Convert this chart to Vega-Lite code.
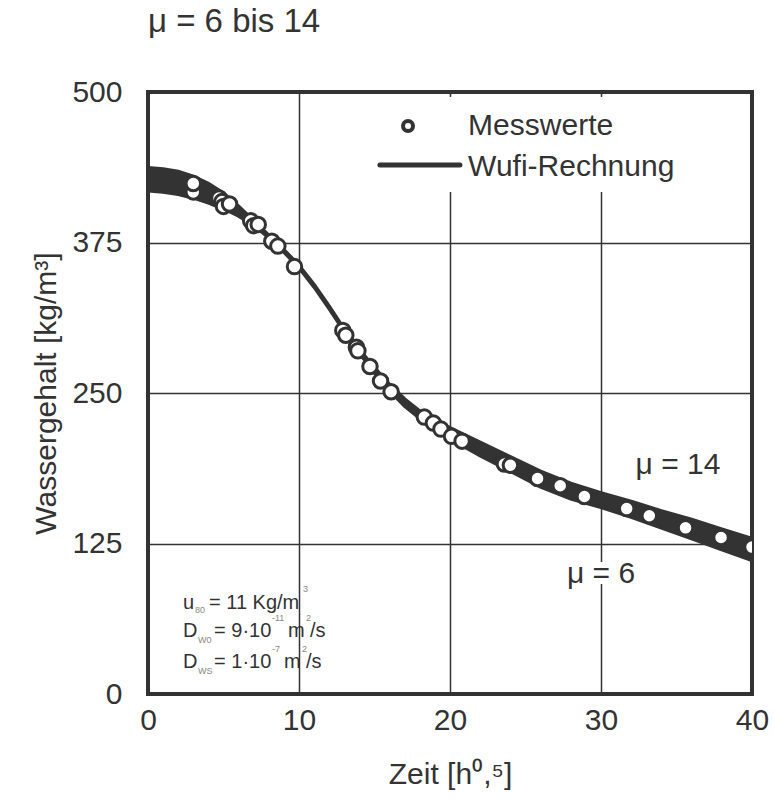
{
  "$schema": "https://vega.github.io/schema/vega-lite/v6.json",
  "width": 604,
  "height": 602,
  "autosize": {"type": "none"},
  "padding": {"left": 148, "top": 92, "right": 22, "bottom": 103},
  "background": "white",
  "title": {"text": "μ = 6 bis 14", "anchor": "start", "frame": "group", "fontSize": 33, "font": "Liberation Sans", "fontWeight": "normal", "color": "#333", "offset": 38},
  "config": {
    "font": "Liberation Sans",
    "view": {"stroke": "#333", "strokeWidth": 4},
    "text": {"font": "Liberation Sans", "color": "#333"}
  },
  "datasets": {
    "wufi": [
      {"t": 0, "mu14": 437, "mu6": 418},
      {"t": 1, "mu14": 436, "mu6": 417},
      {"t": 2, "mu14": 434, "mu6": 415},
      {"t": 3, "mu14": 430, "mu6": 412},
      {"t": 4, "mu14": 424, "mu6": 408},
      {"t": 5, "mu14": 416, "mu6": 403},
      {"t": 6, "mu14": 405, "mu6": 397},
      {"t": 7, "mu14": 393, "mu6": 389},
      {"t": 8, "mu14": 381, "mu6": 379},
      {"t": 9, "mu14": 369, "mu6": 367},
      {"t": 10, "mu14": 356, "mu6": 354},
      {"t": 11, "mu14": 340, "mu6": 338},
      {"t": 12, "mu14": 322, "mu6": 320},
      {"t": 13, "mu14": 303, "mu6": 301},
      {"t": 14, "mu14": 286, "mu6": 283},
      {"t": 15, "mu14": 271, "mu6": 267},
      {"t": 16, "mu14": 257, "mu6": 252},
      {"t": 17, "mu14": 245, "mu6": 239},
      {"t": 18, "mu14": 235, "mu6": 229},
      {"t": 19, "mu14": 227, "mu6": 220},
      {"t": 20, "mu14": 221, "mu6": 212},
      {"t": 22, "mu14": 209, "mu6": 198},
      {"t": 24, "mu14": 197, "mu6": 185},
      {"t": 26, "mu14": 185, "mu6": 172},
      {"t": 28, "mu14": 175, "mu6": 162},
      {"t": 30, "mu14": 167, "mu6": 155},
      {"t": 32, "mu14": 160, "mu6": 147},
      {"t": 34, "mu14": 152, "mu6": 138},
      {"t": 36, "mu14": 145, "mu6": 129},
      {"t": 38, "mu14": 137, "mu6": 120},
      {"t": 40, "mu14": 129, "mu6": 111}
    ],
    "mess": [
      {"t": 3.0, "w": 417}, {"t": 3.0, "w": 424}, {"t": 4.7, "w": 412}, {"t": 4.9, "w": 409},
      {"t": 5.0, "w": 405}, {"t": 5.4, "w": 407}, {"t": 6.8, "w": 393}, {"t": 7.0, "w": 389},
      {"t": 7.3, "w": 390}, {"t": 8.2, "w": 376}, {"t": 8.6, "w": 372}, {"t": 9.7, "w": 355},
      {"t": 12.9, "w": 302}, {"t": 13.1, "w": 298}, {"t": 13.8, "w": 288}, {"t": 13.9, "w": 285},
      {"t": 14.7, "w": 272}, {"t": 15.4, "w": 260}, {"t": 16.1, "w": 251}, {"t": 18.3, "w": 230},
      {"t": 18.9, "w": 225}, {"t": 19.4, "w": 220}, {"t": 20.1, "w": 214}, {"t": 20.8, "w": 210},
      {"t": 23.6, "w": 191}, {"t": 24.0, "w": 190}, {"t": 25.8, "w": 179}, {"t": 27.3, "w": 173},
      {"t": 28.9, "w": 164}, {"t": 31.7, "w": 154}, {"t": 33.2, "w": 148}, {"t": 35.6, "w": 138},
      {"t": 37.95, "w": 130}, {"t": 40, "w": 122}
    ],
    "one": [{}]
  },
  "layer": [
    {
      "data": {"name": "wufi"},
      "mark": {"type": "area", "color": "#333", "clip": true},
      "encoding": {
        "x": {"field": "t", "type": "quantitative", "scale": {"domain": [0, 40], "nice": false},
          "axis": {"values": [0, 10, 20, 30, 40], "domain": false, "ticks": false, "grid": true, "gridColor": "#333", "gridWidth": 1.5, "gridOpacity": 1,
            "labelFontSize": 30, "labelColor": "#333", "labelPadding": 11, "labelFlush": false, "labelFont": "Liberation Sans",
            "title": "Zeit [h⁰,⁵]", "titleFontSize": 30, "titleFontWeight": "normal", "titleColor": "#333", "titlePadding": 24, "titleFont": "Liberation Sans"}},
        "y": {"field": "mu14", "type": "quantitative", "scale": {"domain": [0, 500], "nice": false},
          "axis": {"values": [0, 125, 250, 375, 500], "domain": false, "ticks": false, "grid": true, "gridColor": "#333", "gridWidth": 1.5, "gridOpacity": 1,
            "labelFontSize": 30, "labelColor": "#333", "labelPadding": 26, "labelFlush": false, "labelFont": "Liberation Sans",
            "title": "Wassergehalt [kg/m³]", "titleFontSize": 30, "titleFontWeight": "normal", "titleColor": "#333", "titlePadding": 10, "titleFont": "Liberation Sans"}},
        "y2": {"field": "mu6"}
      }
    },
    {
      "data": {"name": "wufi"},
      "mark": {"type": "line", "color": "#333", "strokeWidth": 3.5, "clip": true},
      "encoding": {"x": {"field": "t", "type": "quantitative"}, "y": {"field": "mu14", "type": "quantitative"}}
    },
    {
      "data": {"name": "wufi"},
      "mark": {"type": "line", "color": "#333", "strokeWidth": 3.5, "clip": true},
      "encoding": {"x": {"field": "t", "type": "quantitative"}, "y": {"field": "mu6", "type": "quantitative"}}
    },
    {
      "data": {"name": "mess"},
      "mark": {"type": "point", "shape": "circle", "filled": true, "fill": "white", "stroke": "#333", "strokeWidth": 3, "size": 210, "opacity": 1, "clip": true},
      "encoding": {
        "x": {"field": "t", "type": "quantitative"},
        "y": {"field": "w", "type": "quantitative"}
      }
    },
    {
      "data": {"name": "one"},
      "mark": {"type": "rect", "color": "white", "opacity": 1},
      "encoding": {"x": {"datum": 15.36}, "x2": {"datum": 39.5}, "y": {"datum": 495.8}, "y2": {"datum": 417}}
    },
    {
      "data": {"name": "one"},
      "mark": {"type": "point", "shape": "circle", "filled": true, "fill": "white", "stroke": "#333", "strokeWidth": 4, "size": 100, "opacity": 1},
      "encoding": {"x": {"datum": 17.22}, "y": {"datum": 471.8}}
    },
    {
      "data": {"name": "one"},
      "mark": {"type": "rule", "color": "#333", "strokeWidth": 5, "strokeCap": "round"},
      "encoding": {"x": {"datum": 15.36}, "x2": {"datum": 20.66}, "y": {"datum": 439.4}}
    },
    {
      "data": {"name": "one"},
      "mark": {"type": "text", "text": "Messwerte", "align": "left", "baseline": "middle", "fontSize": 30},
      "encoding": {"x": {"datum": 21.2}, "y": {"datum": 471.8}}
    },
    {
      "data": {"name": "one"},
      "mark": {"type": "text", "text": "Wufi-Rechnung", "align": "left", "baseline": "middle", "fontSize": 30},
      "encoding": {"x": {"datum": 21.2}, "y": {"datum": 437.7}}
    },
    {
      "data": {"name": "one"},
      "mark": {"type": "text", "text": "μ = 14", "align": "center", "baseline": "middle", "fontSize": 30},
      "encoding": {"x": {"datum": 35.1}, "y": {"datum": 190}}
    },
    {
      "data": {"name": "one"},
      "mark": {"type": "text", "text": "μ = 6", "align": "center", "baseline": "middle", "fontSize": 30, "stroke": "white", "strokeWidth": 12, "fill": "white"},
      "encoding": {"x": {"datum": 30}, "y": {"datum": 99.7}}
    },
    {
      "data": {"name": "one"},
      "mark": {"type": "text", "text": "μ = 6", "align": "center", "baseline": "middle", "fontSize": 30},
      "encoding": {"x": {"datum": 30}, "y": {"datum": 99.7}}
    },
    {"data": {"name": "one"}, "mark": {"type": "text", "text": "u", "align": "left", "fontSize": 20}, "encoding": {"x": {"datum": 2.32}, "y": {"datum": 75.6}}},
    {"data": {"name": "one"}, "mark": {"type": "text", "text": "80", "align": "left", "fontSize": 9, "color": "#888", "dx": 12, "dy": 7}, "encoding": {"x": {"datum": 2.32}, "y": {"datum": 75.6}}},
    {"data": {"name": "one"}, "mark": {"type": "text", "text": "= 11 Kg/m", "align": "left", "fontSize": 20, "dx": 26}, "encoding": {"x": {"datum": 2.32}, "y": {"datum": 75.6}}},
    {"data": {"name": "one"}, "mark": {"type": "text", "text": "3", "align": "left", "fontSize": 9, "color": "#888", "dx": 120, "dy": -14}, "encoding": {"x": {"datum": 2.32}, "y": {"datum": 75.6}}},
    {"data": {"name": "one"}, "mark": {"type": "text", "text": "D", "align": "left", "fontSize": 20}, "encoding": {"x": {"datum": 2.32}, "y": {"datum": 52.3}}},
    {"data": {"name": "one"}, "mark": {"type": "text", "text": "W0", "align": "left", "fontSize": 9, "color": "#888", "dx": 15, "dy": 9}, "encoding": {"x": {"datum": 2.32}, "y": {"datum": 52.3}}},
    {"data": {"name": "one"}, "mark": {"type": "text", "text": "= 9·10", "align": "left", "fontSize": 20, "dx": 31}, "encoding": {"x": {"datum": 2.32}, "y": {"datum": 52.3}}},
    {"data": {"name": "one"}, "mark": {"type": "text", "text": "-11", "align": "left", "fontSize": 9, "color": "#888", "dx": 89, "dy": -13}, "encoding": {"x": {"datum": 2.32}, "y": {"datum": 52.3}}},
    {"data": {"name": "one"}, "mark": {"type": "text", "text": "m", "align": "left", "fontSize": 20, "dx": 105}, "encoding": {"x": {"datum": 2.32}, "y": {"datum": 52.3}}},
    {"data": {"name": "one"}, "mark": {"type": "text", "text": "2", "align": "left", "fontSize": 9, "color": "#888", "dx": 123, "dy": -13}, "encoding": {"x": {"datum": 2.32}, "y": {"datum": 52.3}}},
    {"data": {"name": "one"}, "mark": {"type": "text", "text": "/s", "align": "left", "fontSize": 20, "dx": 127}, "encoding": {"x": {"datum": 2.32}, "y": {"datum": 52.3}}},
    {"data": {"name": "one"}, "mark": {"type": "text", "text": "D", "align": "left", "fontSize": 20}, "encoding": {"x": {"datum": 2.32}, "y": {"datum": 26.6}}},
    {"data": {"name": "one"}, "mark": {"type": "text", "text": "WS", "align": "left", "fontSize": 9, "color": "#888", "dx": 15, "dy": 9}, "encoding": {"x": {"datum": 2.32}, "y": {"datum": 26.6}}},
    {"data": {"name": "one"}, "mark": {"type": "text", "text": "= 1·10", "align": "left", "fontSize": 20, "dx": 31}, "encoding": {"x": {"datum": 2.32}, "y": {"datum": 26.6}}},
    {"data": {"name": "one"}, "mark": {"type": "text", "text": "-7", "align": "left", "fontSize": 9, "color": "#888", "dx": 89, "dy": -13}, "encoding": {"x": {"datum": 2.32}, "y": {"datum": 26.6}}},
    {"data": {"name": "one"}, "mark": {"type": "text", "text": "m", "align": "left", "fontSize": 20, "dx": 101}, "encoding": {"x": {"datum": 2.32}, "y": {"datum": 26.6}}},
    {"data": {"name": "one"}, "mark": {"type": "text", "text": "2", "align": "left", "fontSize": 9, "color": "#888", "dx": 119, "dy": -13}, "encoding": {"x": {"datum": 2.32}, "y": {"datum": 26.6}}},
    {"data": {"name": "one"}, "mark": {"type": "text", "text": "/s", "align": "left", "fontSize": 20, "dx": 123}, "encoding": {"x": {"datum": 2.32}, "y": {"datum": 26.6}}}
  ]
}
